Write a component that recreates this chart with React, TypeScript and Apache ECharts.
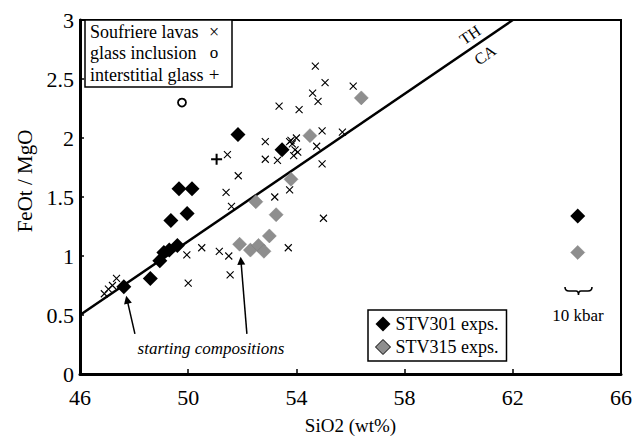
import React, { useEffect, useRef } from 'react';
import * as echarts from 'echarts';

const FONT = '"Liberation Serif", "Times New Roman", serif';

// Axis ticks
const xTickLabels = [46, 50, 54, 58, 62, 66];
const xTickMarks = [50, 54, 58, 62];

// Soufriere lavas (SiO2, FeOt/MgO)
const lavaSi = [46.9, 47.05, 47.2, 47.35, 49.95, 50.0, 50.5, 51.15, 51.5, 51.55, 53.7, 55.0, 51.4, 51.6, 51.85, 51.45, 52.85, 52.85, 53.3, 53.2, 53.75, 53.36, 54.1, 54.7, 55.06, 56.1, 54.6, 54.8, 54.95, 55.7, 54.75, 54.95, 53.85, 53.95, 54.0, 53.9, 54.05, 53.8, 53.75];
const lavaRatio = [0.68, 0.72, 0.75, 0.81, 1.01, 0.77, 1.07, 1.04, 1.0, 0.84, 1.07, 1.32, 1.54, 1.42, 1.68, 1.86, 1.97, 1.82, 1.81, 1.5, 1.56, 2.27, 2.24, 2.61, 2.47, 2.44, 2.38, 2.31, 2.06, 2.05, 1.93, 1.78, 1.95, 1.9, 2.0, 1.85, 1.88, 1.98, 1.97];

// glass inclusion, interstitial glass
const glassInclSi = [49.77];
const glassInclRatio = [2.3];
const interGlassSi = [51.05];
const interGlassRatio = [1.82];

// Experiments
const stv301Si = [47.62, 48.6, 48.95, 49.1, 49.3, 49.6, 49.36, 49.96, 49.66, 50.14, 51.84, 53.47, 64.4];
const stv301Ratio = [0.74, 0.81, 0.96, 1.03, 1.05, 1.09, 1.3, 1.36, 1.57, 1.57, 2.03, 1.9, 1.34];
const stv315Si = [51.9, 52.3, 52.6, 52.8, 53.0, 52.5, 53.25, 53.8, 54.5, 56.4, 64.4];
const stv315Ratio = [1.1, 1.05, 1.09, 1.04, 1.17, 1.46, 1.35, 1.65, 2.02, 2.34, 1.03];

// TH / CA dividing line
const thcaSi = [46, 62];
const thcaRatio = [0.5, 3.0];

// arrows to starting compositions (from -> to)
const arrowFromSi = [48.03, 52.17];
const arrowFromRatio = [0.34, 0.34];
const arrowToSi = [47.74, 51.95];
const arrowToRatio = [0.63, 0.96];

const zip = (a: number[], b: number[]) => a.map((v, i) => [v, b[i]]);

export default function App() {
  const ref = useRef<HTMLDivElement>(null);
  useEffect(() => {
    document.body.style.margin = '0';
    const chart = echarts.init(ref.current!, null, { renderer: 'svg' });
    echarts.graphic.registerShape(
      'brace',
      echarts.graphic.extendPath('M0,0 Q0,4 4,4 L11,4 Q13.5,4 13.5,8 Q13.5,4 16,4 L23,4 Q27,4 27,0', {})
    );
    const txt = (text: string, x: number, y: number, size: number, extra: any = {}) => ({
      type: 'text',
      x,
      y,
      z: 50,
      ...extra,
      style: {
        text,
        fontFamily: FONT,
        fontSize: size,
        fill: '#000',
        align: 'left',
        verticalAlign: 'middle',
        ...(extra.style || {}),
      },
    });
    const option: any = {
      animation: false,
      backgroundColor: '#fff',
      grid: { left: 80, right: 17, top: 20, bottom: 63, show: true, borderColor: '#000', borderWidth: 2 },
      xAxis: {
        type: 'value',
        min: 46,
        max: 66,
        interval: 2,
        name: 'SiO2 (wt%)',
        nameLocation: 'middle',
        nameGap: 42,
        nameTextStyle: { fontFamily: FONT, fontSize: 19, color: '#000' },
        axisLine: { show: true, onZero: false, lineStyle: { color: '#000', width: 3 } },
        axisTick: { show: true, inside: true, length: 5, customValues: xTickMarks, lineStyle: { color: '#000', width: 1.5 } },
        axisLabel: { customValues: xTickLabels, fontFamily: FONT, fontSize: 22, color: '#000', margin: 12 },
        splitLine: { show: false },
      },
      yAxis: {
        type: 'value',
        min: 0,
        max: 3,
        interval: 0.5,
        name: 'FeOt / MgO',
        nameLocation: 'middle',
        nameGap: 44,
        nameTextStyle: { fontFamily: FONT, fontSize: 21, color: '#000', padding: [0, 0, 0, 32] },
        axisLine: { show: true, onZero: false, lineStyle: { color: '#000', width: 3 } },
        axisTick: { show: true, inside: true, length: 4, lineStyle: { color: '#000', width: 1.5 } },
        axisLabel: { fontFamily: FONT, fontSize: 22, color: '#000', margin: 6 },
        splitLine: { show: false },
      },
      legend: {
        orient: 'vertical',
        left: 368,
        top: 310,
        selectedMode: false,
        backgroundColor: '#fff',
        borderColor: '#000',
        borderWidth: 1.5,
        borderRadius: 0,
        padding: [5, 8, 5, 7],
        itemGap: 5,
        itemWidth: 15,
        itemHeight: 15,
        textStyle: { fontFamily: FONT, fontSize: 18, color: '#000' },
        data: [
          { name: 'STV301 exps.', icon: 'diamond', itemStyle: { color: '#000', opacity: 1 } },
          { name: 'STV315 exps.', icon: 'diamond', itemStyle: { color: '#8e8e8e', borderColor: '#000', borderWidth: 1, opacity: 1 } },
        ],
      },
      series: [
        {
          name: 'TH-CA',
          type: 'line',
          data: zip(thcaSi, thcaRatio),
          symbol: 'none',
          silent: true,
          lineStyle: { color: '#000', width: 2.5 },
          z: 1,
          markLine: {
            silent: true,
            symbol: ['none', 'triangle'],
            symbolSize: 8,
            label: { show: false },
            lineStyle: { color: '#000', width: 1.5, type: 'solid' },
            data: arrowFromSi.map((v, i) => [
              { coord: [v, arrowFromRatio[i]] },
              { coord: [arrowToSi[i], arrowToRatio[i]] },
            ]),
          },
        },
        {
          name: 'Soufriere lavas',
          type: 'scatter',
          data: zip(lavaSi, lavaRatio),
          symbol: 'path://M0,0L10,10M10,0L0,10',
          symbolSize: 7,
          itemStyle: { color: 'none', borderColor: '#000', borderWidth: 1.1, opacity: 1 },
          z: 2,
        },
        {
          name: 'glass inclusion',
          type: 'scatter',
          data: zip(glassInclSi, glassInclRatio),
          symbol: 'circle',
          symbolSize: 8,
          itemStyle: { color: '#fff', borderColor: '#000', borderWidth: 1.8, opacity: 1 },
          z: 2,
        },
        {
          name: 'interstitial glass',
          type: 'scatter',
          data: zip(interGlassSi, interGlassRatio),
          symbol: 'path://M5,0L5,10M0,5L10,5',
          symbolSize: 11,
          itemStyle: { color: 'none', borderColor: '#000', borderWidth: 2, opacity: 1 },
          z: 2,
        },
        {
          name: 'STV301 exps.',
          type: 'scatter',
          data: zip(stv301Si, stv301Ratio),
          symbol: 'diamond',
          symbolSize: 15,
          itemStyle: { color: '#000', opacity: 1 },
          z: 3,
        },
        {
          name: 'STV315 exps.',
          type: 'scatter',
          data: zip(stv315Si, stv315Ratio),
          symbol: 'diamond',
          symbolSize: 14,
          itemStyle: { color: '#8e8e8e', borderColor: '#7a7a7a', borderWidth: 0.5, opacity: 1 },
          z: 3,
        },
      ],
      graphic: [
        {
          type: 'rect',
          z: 40,
          shape: { x: 85, y: 20, width: 147, height: 67 },
          style: { fill: '#fff', stroke: '#000', lineWidth: 1.5 },
        },
        txt('Soufriere lavas', 90, 32, 18),
        txt('glass inclusion', 90, 53, 18),
        txt('interstitial glass', 90, 75, 18),
        txt('\u00d7', 214, 32, 18, { style: { align: 'center' } }),
        txt('o', 214, 52, 17, { style: { align: 'center' } }),
        txt('+', 214, 74, 19, { style: { align: 'center' } }),
        txt('TH', 470, 35, 16, { rotation: 0.602, style: { align: 'center' } }),
        txt('CA', 485, 55, 16, { rotation: 0.602, style: { align: 'center' } }),
        txt('starting compositions', 211, 348, 17, { style: { align: 'center', fontStyle: 'italic' } }),
        txt('10 kbar', 578, 315, 17, { style: { align: 'center' } }),
        {
          type: 'brace',
          x: 565,
          y: 287,
          z: 50,
          style: { fill: 'none', stroke: '#000', lineWidth: 1.6 },
        },
      ],
    };
    chart.setOption(option);
    return () => chart.dispose();
  }, []);
  return <div ref={ref} style={{ width: 638, height: 440 }} />;
}
